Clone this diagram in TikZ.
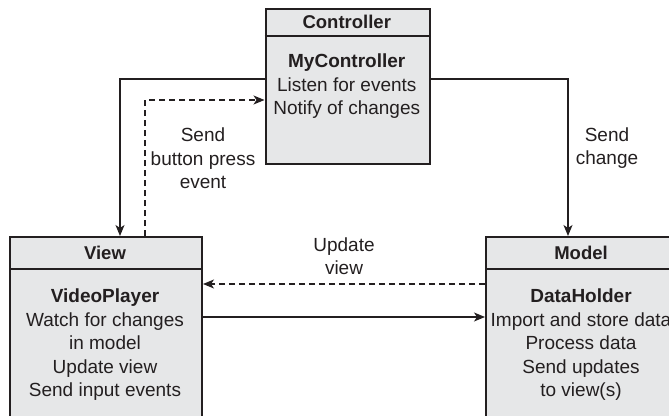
\documentclass[tikz,border=0pt]{standalone}
\usepackage{fontspec}
\setmainfont{Liberation Sans}
\usetikzlibrary{arrows.meta}
\definecolor{ink}{HTML}{231F20}
\definecolor{boxfill}{HTML}{E6E7E8}
\begin{document}
\begin{tikzpicture}[x=1pt,y=-1pt,
  box/.style={draw=ink,fill=boxfill,line width=2pt,inner sep=0pt,anchor=north west},
  divider/.style={draw=ink,line width=2pt},
  txt/.style={text=ink,inner sep=0pt,align=center,font=\fontsize{19}{23.5}\selectfont},
  head/.style={txt,font=\fontsize{18.5}{23.5}\selectfont\bfseries},
  link/.style={draw=ink,line width=1.4pt,-{Stealth[length=11pt,width=9pt,inset=3pt]}},
  dlink/.style={link,dash pattern=on 6pt off 4pt}]
\useasboundingbox (0,0) rectangle (669,415);
\clip (0,0) rectangle (669,415);

% boxes
\node[box,minimum width=164.5pt,minimum height=155pt] (ctrl) at (264.5,8) {};
\node[box,minimum width=192pt,minimum height=200pt] (view) at (9,236) {};
\node[box,minimum width=192pt,minimum height=200pt] (model) at (485,236) {};

% header dividers
\draw[divider] ([yshift=-28pt]ctrl.north west) -- ([yshift=-28pt]ctrl.north east);
\draw[divider] ([yshift=-33pt]view.north west) -- ([yshift=-33pt]view.north east);
\draw[divider] ([yshift=-33pt]model.north west) -- ([yshift=-33pt]model.north east);

% headers
\node[head] (ctrlhead) at (346.75,22) {Controller};
\node[head] (viewhead) at (105,253) {View};
\node[head] (modelhead) at (581,253) {Model};

% body texts (base anchor sits on the last line)
\node[txt,anchor=base] (ctrltext) at (346.75,114.5)
  {\textbf{MyController}\\Listen for events\\Notify of changes};
\node[txt,anchor=base] (viewtext) at (105,396.5)
  {\textbf{VideoPlayer}\\Watch for changes\\in model\\Update view\\Send input events};
\node[txt,anchor=base] (modeltext) at (581,396.5)
  {\textbf{DataHolder}\\Import and store data\\Process data\\Send updates\\to view(s)};

% bend points of the connectors
\coordinate (c1) at (120,79);
\coordinate (c2) at (145,100);
\coordinate (c3) at (568,79);
\coordinate (c4) at (0,284);
\coordinate (c5) at (0,317);

% connectors
\draw[link] (ctrl.west |- c1) -| (view.north -| c1);
\draw[dlink] (view.north -| c2) |- (ctrl.west |- c2);
\draw[link] (ctrl.east |- c3) -| (model.north -| c3);
\draw[dlink] (model.west |- c4) -- (view.east |- c4);
\draw[link] (view.east |- c5) -- (model.west |- c5);

% connector labels
\node[txt,anchor=base] (lblpress) at (203,188.5) {Send\\button press\\event};
\node[txt,anchor=base] (lblchange) at (607,164.5) {Send\\change};
\node[txt,anchor=base] (lblupdate) at (344,274.5) {Update\\view};
\end{tikzpicture}
\end{document}
